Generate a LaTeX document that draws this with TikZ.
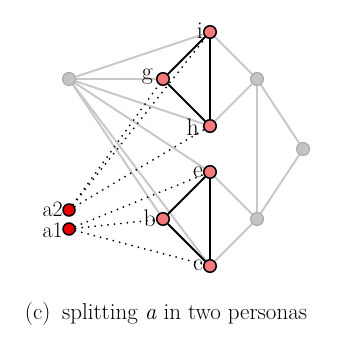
\documentclass[tikz,border=0pt]{standalone}
\usetikzlibrary{backgrounds}
\definecolor{pinkfill}{HTML}{F47A7A}
\definecolor{redfill}{HTML}{E80000}
\definecolor{greyfill}{HTML}{C4C4C4}
\definecolor{greyline}{HTML}{C8C8C8}
\begin{document}
\begin{tikzpicture}[x=1pt,y=-1pt,
  pnode/.style={circle,draw=black,line width=1.5pt,fill=pinkfill,minimum size=12.5pt,inner sep=0pt},
  anode/.style={circle,draw=black,line width=1.5pt,fill=redfill,minimum size=12pt,inner sep=0pt},
  gnode/.style={circle,draw=greyfill!85!black,line width=1pt,fill=greyfill,minimum size=13pt,inner sep=0pt},
  lab/.style={font=\fontsize{24}{24}\selectfont,inner sep=0pt,anchor=east},
  alab/.style={font=\fontsize{22}{22}\selectfont,inner sep=0pt,anchor=east,text height=14pt,text depth=0pt},
  gedge/.style={draw=greyline,line width=2pt},
  bedge/.style={draw=black,line width=2pt},
  dedge/.style={draw=black,line width=2pt,line cap=round,dash pattern=on 0pt off 6.5pt}]
\useasboundingbox (0,0) rectangle (336,352);
\node[gnode] (L) at (69,79) {};
\node[gnode] (R1) at (257,79) {};
\node[gnode] (R2) at (303,149) {};
\node[gnode] (R3) at (257,219) {};
\node[pnode] (i) at (210,32) {};
\node[pnode] (g) at (163,79) {};
\node[pnode] (h) at (210,126) {};
\node[pnode] (e) at (210,172) {};
\node[pnode] (b) at (163,219) {};
\node[pnode] (c) at (210,266) {};
\node[anode] (a2) at (69,210) {};
\node[anode] (a1) at (69,229) {};
\node[lab] (li) at (203,31) {i};
\node[lab] (lg) at (153,77) {g};
\node[lab] (lh) at (199,127) {h};
\node[lab] (le) at (203,172) {e};
\node[lab] (lb) at (156,218) {b};
\node[lab] (lc) at (203,265) {c};
\node[alab] (la2) at (63,209) {a2};
\node[alab] (la1) at (63,230) {a1};
\begin{scope}[on background layer]
\foreach \t in {i,g,h,e,b,c} \draw[gedge] (L) -- (\t);
\draw[gedge] (R1) -- (i);
\draw[gedge] (R1) -- (h);
\draw[gedge] (R1) -- (R2);
\draw[gedge] (R1) -- (R3);
\draw[gedge] (R2) -- (R3);
\draw[gedge] (R3) -- (e);
\draw[gedge] (R3) -- (c);
\draw[dedge] (a2) -- (i);
\draw[dedge] (a2) -- (g);
\draw[dedge] (a2) -- (h);
\draw[dedge] (a1) -- (e);
\draw[dedge] (a1) -- (b);
\draw[dedge] (a1) -- (c);
\draw[bedge] (i) -- (g);
\draw[bedge] (g) -- (h);
\draw[bedge] (i) -- (h);
\draw[bedge] (e) -- (b);
\draw[bedge] (b) -- (c);
\draw[bedge] (e) -- (c);
\end{scope}
\node[font=\fontsize{23}{24}\selectfont,inner sep=0pt] (cap) at (166,314) {(c)\enspace splitting \textit{a} in two personas};
\end{tikzpicture}
\end{document}
